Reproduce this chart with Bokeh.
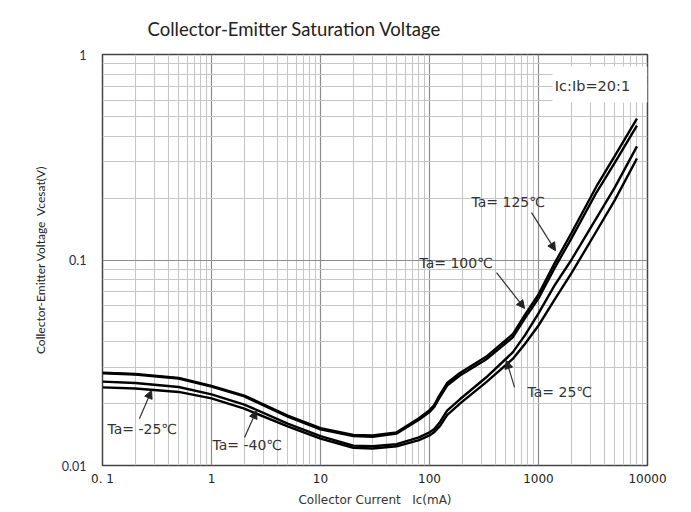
from bokeh.plotting import figure
from bokeh.models import Range1d, FixedTicker, Arrow, NormalHead, Label
from bokeh.embed import file_html
from bokeh.resources import INLINE

# ---------------- data ----------------
ic_ma = [0.1, 0.2, 0.5, 1, 2, 5, 10, 20, 30, 50, 80, 100, 110, 125, 145, 190,
         330, 580, 750, 1000, 1400, 2000, 3400, 5000, 8000]
v_125 = [0.0283, 0.0279, 0.0267, 0.0244, 0.0219, 0.0175, 0.0152, 0.0141, 0.0140,
         0.0145, 0.0170, 0.0186, 0.0196, 0.0222, 0.0252, 0.0282, 0.0338, 0.0435,
         0.054, 0.068, 0.096, 0.135, 0.228, 0.32, 0.488]
v_100 = [0.0281, 0.0277, 0.0265, 0.0242, 0.0217, 0.0173, 0.0150, 0.0139, 0.0138,
         0.0143, 0.0167, 0.0182, 0.0192, 0.0216, 0.0245, 0.0274, 0.0328, 0.0420,
         0.052, 0.065, 0.091, 0.127, 0.213, 0.297, 0.451]
v_25 = [0.0256, 0.0252, 0.0241, 0.0222, 0.0198, 0.0160, 0.0139, 0.0125, 0.0124,
        0.0127, 0.0137, 0.0145, 0.0150, 0.0163, 0.0185, 0.0210, 0.0268, 0.0355,
        0.043, 0.055, 0.075, 0.100, 0.160, 0.225, 0.357]
v_m25 = [0.0240, 0.0237, 0.0228, 0.0212, 0.0189, 0.0155, 0.0135, 0.0122, 0.0121,
         0.0124, 0.0133, 0.0140, 0.0145, 0.0156, 0.0176, 0.0200, 0.0254, 0.0330,
         0.039, 0.048, 0.064, 0.086, 0.138, 0.195, 0.312]

x_ticks = [0.1, 1, 10, 100, 1000, 10000]
x_tick_labels = ["0. 1", "1", "10", "100", "1000", "10000"]
y_ticks = [0.01, 0.1, 1]
y_tick_labels = ["0.01", "0.1", "1"]

title_text = "Collector-Emitter Saturation Voltage"

# annotation texts and arrows
ann_texts = ["Ta= 125\u2103", "Ta= 100\u2103", "Ta= 25\u2103", "Ta= -25\u2103", "Ta= -40\u2103"]
ann_x = [243, 80.9, 793, 0.111, 1.02]
ann_y = [0.1905, 0.0962, 0.0229, 0.0150, 0.01265]
arr_x0 = [863, 412, 603, 0.218, 2.01]
arr_y0 = [0.170, 0.0869, 0.0240, 0.0169, 0.01368]
arr_x1 = [1432, 745, 508, 0.282, 2.59]
arr_y1 = [0.111, 0.0581, 0.0324, 0.0232, 0.01853]

# ---------------- figure ----------------
p = figure(x_axis_type="log", y_axis_type="log",
           x_range=Range1d(0.1, 10000), y_range=Range1d(0.01, 1),
           frame_width=545, frame_height=411,
           min_border_left=102, min_border_right=40,
           min_border_top=54, min_border_bottom=45,
           output_backend="svg", toolbar_location=None,
           title=title_text)

p.title.align = "left"
p.title.offset = 45
p.title.standoff = 30
p.title.text_font = "Lato"
p.title.text_font_size = "18.5px"
p.title.text_font_style = "normal"
p.title.text_color = "#222222"

x_minor = [k * 10.0 ** e for e in range(-1, 4) for k in range(2, 10)]
y_minor = [k * 10.0 ** e for e in range(-2, 0) for k in range(2, 10)]
p.xaxis.ticker = FixedTicker(ticks=x_ticks, minor_ticks=x_minor)
p.yaxis.ticker = FixedTicker(ticks=y_ticks, minor_ticks=y_minor)
p.xaxis.major_label_overrides = {t: s for t, s in zip(x_ticks, x_tick_labels)}
p.yaxis.major_label_overrides = {t: s for t, s in zip(y_ticks, y_tick_labels)}

for ax in (p.xaxis, p.yaxis):
    ax.axis_line_color = None
    ax.major_tick_line_color = None
    ax.minor_tick_line_color = None
    ax.axis_label_text_font_style = "normal"

p.xaxis.major_label_text_font = "DejaVu Sans"
p.xaxis.major_label_text_font_size = "12px"
p.xaxis.major_label_text_color = "#222222"
p.xaxis.major_label_standoff = 0
p.xaxis.axis_label = "Collector Current\u00a0\u00a0\u00a0Ic(mA)"
p.xaxis.axis_label_text_font = "DejaVu Sans"
p.xaxis.axis_label_text_font_size = "12px"
p.xaxis.axis_label_text_color = "#333333"
p.xaxis.axis_label_standoff = 4

p.yaxis.major_label_text_font = "Lato"
p.yaxis.major_label_text_font_size = "12.5px"
p.yaxis.major_label_text_color = "#23304f"
p.yaxis.major_label_standoff = 10
p.yaxis.axis_label = "Collector-Emitter Voltage\u00a0\u00a0Vcesat(V)"
p.yaxis.axis_label_text_font = "Lato"
p.yaxis.axis_label_text_font_size = "12px"
p.yaxis.axis_label_text_color = "#222222"
p.yaxis.axis_label_standoff = 11

for g in (p.xgrid, p.ygrid):
    g.grid_line_color = "#8c8c8c"
    g.grid_line_width = 1.2
    g.minor_grid_line_color = "#c6c6c6"
    g.minor_grid_line_width = 1.1

p.outline_line_color = "#444444"
p.outline_line_width = 1.5
p.background_fill_color = "white"
p.border_fill_color = "white"

# condition box
p.quad(left=1343, right=10000, top=0.874, bottom=0.584,
       fill_color="white", line_color=None)
p.add_layout(Label(x=3126, y=0.706, text="Ic:Ib=20:1", text_align="center",
                   text_baseline="middle", text_font="DejaVu Sans",
                   text_font_size="14.5px", text_color="#333333"))

# curves
for ys in (v_125, v_100, v_25, v_m25):
    p.line(ic_ma, ys, line_color="black", line_width=2.4)

# annotations
for t, x, y in zip(ann_texts, ann_x, ann_y):
    p.add_layout(Label(x=x, y=y, text=t, text_align="left", text_baseline="middle",
                       text_font="DejaVu Sans", text_font_size="14px",
                       text_color="#333333"))
for x0, y0, x1, y1 in zip(arr_x0, arr_y0, arr_x1, arr_y1):
    p.add_layout(Arrow(end=NormalHead(size=8, fill_color="#222222", line_color="#222222"),
                       x_start=x0, y_start=y0, x_end=x1, y_end=y1,
                       line_color="#333333", line_width=1.2))

open("out.html", "w").write(file_html(p, INLINE))
